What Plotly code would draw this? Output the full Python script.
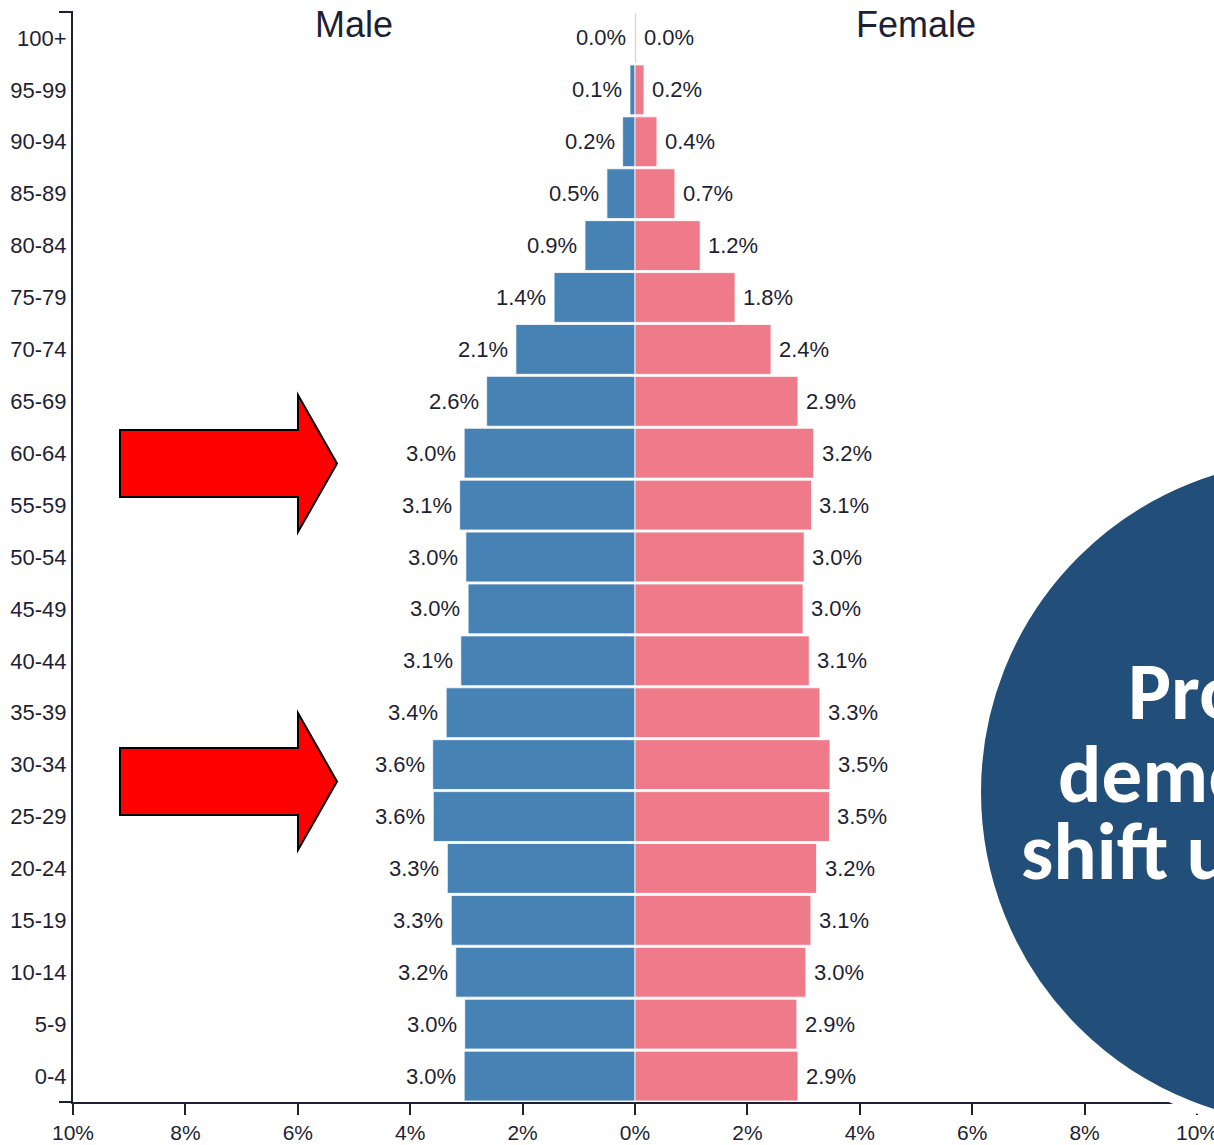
import plotly.graph_objects as go

age_groups = ["0-4", "5-9", "10-14", "15-19", "20-24", "25-29", "30-34", "35-39",
              "40-44", "45-49", "50-54", "55-59", "60-64", "65-69", "70-74", "75-79",
              "80-84", "85-89", "90-94", "95-99", "100+"]
male_pct = [3.04, 3.03, 3.19, 3.27, 3.34, 3.59, 3.60, 3.36, 3.10, 2.97, 3.01,
            3.12, 3.04, 2.64, 2.12, 1.44, 0.89, 0.50, 0.22, 0.09, 0.01]
female_pct = [2.90, 2.88, 3.04, 3.13, 3.23, 3.46, 3.47, 3.29, 3.10, 2.99, 3.01,
              3.14, 3.18, 2.90, 2.42, 1.78, 1.16, 0.71, 0.39, 0.16, 0.02]
tick_vals = [-10, -8, -6, -4, -2, 0, 2, 4, 6, 8, 10]
tick_text = ["10%", "8%", "6%", "4%", "2%", "0%", "2%", "4%", "6%", "8%", "10%"]
circle_lines = ["Projected", "demographic", "shift upward"]

W, H = 1214, 1145
ML, MR, MT, MB = 73, 17, 12, 43
PW, PH = W - ML - MR, H - MT - MB

TXT = "#1e1f33"
BLUE = "#4682b4"
PINK = "#ef7a8a"
FONT = "Liberation Sans, Arial, Helvetica, sans-serif"


def px(x):
    return (x - ML) / PW


def py(y):
    return (H - MB - y) / PH


fig = go.Figure()
fig.add_trace(go.Bar(
    y=age_groups, x=[-v for v in male_pct], orientation="h", name="Male",
    marker=dict(color=BLUE, line=dict(color="rgba(255,255,255,0.8)", width=1)),
    hoverinfo="skip"))
fig.add_trace(go.Bar(
    y=age_groups, x=female_pct, orientation="h", name="Female",
    marker=dict(color=PINK, line=dict(color="rgba(255,255,255,0.8)", width=1)),
    hoverinfo="skip"))

annotations = []
for g, m, f in zip(age_groups, male_pct, female_pct):
    annotations.append(dict(x=-m, y=g, xref="x", yref="y", text=f"{m:.1f}%",
                            showarrow=False, xanchor="right", yanchor="middle",
                            xshift=-6, font=dict(family=FONT, size=22, color=TXT)))
    annotations.append(dict(x=f, y=g, xref="x", yref="y", text=f"{f:.1f}%",
                            showarrow=False, xanchor="left", yanchor="middle",
                            xshift=6, font=dict(family=FONT, size=22, color=TXT)))

annotations.append(dict(x=-5, y=py(25), xref="x", yref="paper", text="Male",
                        showarrow=False, xanchor="center", yanchor="middle",
                        font=dict(family=FONT, size=36, color=TXT)))
annotations.append(dict(x=5, y=py(25), xref="x", yref="paper", text="Female",
                        showarrow=False, xanchor="center", yanchor="middle",
                        font=dict(family=FONT, size=36, color=TXT)))

# circle text lines
for line, lx, ly in zip(circle_lines, [1126, 1056, 1019], [691, 774, 851]):
    annotations.append(dict(x=px(lx), y=py(ly), xref="paper", yref="paper",
                            text=f"<b>{line}</b>", showarrow=False,
                            xanchor="left", yanchor="middle",
                            font=dict(family="Carlito, Lato, Open Sans, sans-serif",
                                      size=81, color="white")))


def arrow_path(x0, xh, xt, sy0, sy1, hy0, hy1):
    ym = (hy0 + hy1) / 2
    pts = [(x0, sy0), (xh, sy0), (xh, hy0), (xt, ym), (xh, hy1), (xh, sy1), (x0, sy1)]
    return "M " + " L ".join(f"{px(a):.5f},{py(b):.5f}" for a, b in pts) + " Z"


shapes = [
    dict(type="path", xref="paper", yref="paper",
         path=arrow_path(120, 298, 337, 430, 497, 395, 532),
         fillcolor="#ff0000", line=dict(color="black", width=2), layer="above"),
    dict(type="path", xref="paper", yref="paper",
         path=arrow_path(120, 298, 337, 748, 815, 713, 850),
         fillcolor="#ff0000", line=dict(color="black", width=2), layer="above"),
    # outer ticks of the vertical axis
    dict(type="line", xref="paper", yref="paper", x0=px(59), x1=0, y0=1, y1=1,
         line=dict(color=TXT, width=2)),
    dict(type="line", xref="paper", yref="paper", x0=px(59), x1=0, y0=0, y1=0,
         line=dict(color=TXT, width=2)),
    # circle
    dict(type="circle", xref="paper", yref="paper",
         x0=px(1313 - 337), x1=px(1313 + 337), y0=py(792 + 337), y1=py(792 - 337),
         fillcolor="#214f7a", line=dict(color="white", width=10), layer="above"),
]

fig.update_layout(
    width=W, height=H,
    margin=dict(l=ML, r=MR, t=MT, b=MB, autoexpand=False),
    paper_bgcolor="white", plot_bgcolor="white",
    barmode="overlay", bargap=0.04, showlegend=False,
    annotations=annotations, shapes=shapes,
    font=dict(family=FONT, color=TXT),
)
fig.update_xaxes(range=[-10, 10], tickvals=tick_vals, ticktext=tick_text,
                 showgrid=False, zeroline=False, showline=True, linecolor=TXT,
                 linewidth=2, ticks="outside", ticklen=11, tickwidth=2,
                 tickcolor=TXT, tickfont=dict(family=FONT, size=21, color=TXT),
                 ticklabeloverflow="allow", automargin=False, fixedrange=True)
fig.update_yaxes(categoryorder="array", categoryarray=age_groups,
                 range=[-0.5, len(age_groups) - 0.5],
                 showgrid=False, zeroline=False, showline=True, linecolor=TXT,
                 linewidth=2, ticks="",
                 tickfont=dict(family=FONT, size=22, color=TXT),
                 automargin=False, fixedrange=True)

fig.write_html("out.html", config={"displayModeBar": False, "staticPlot": True},
               post_script="document.body.style.margin='0';document.body.style.overflow='hidden';")
